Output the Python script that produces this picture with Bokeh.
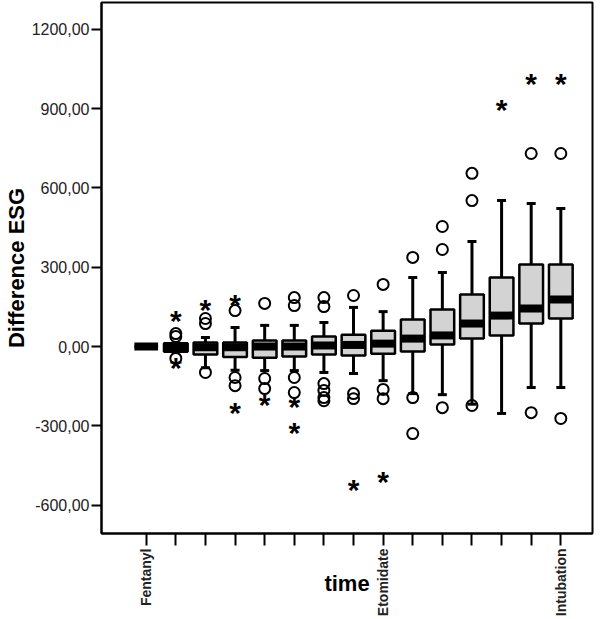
import math
from bokeh.plotting import figure
from bokeh.models import FixedTicker, Range1d, ColumnDataSource
from bokeh.core.properties import value
from bokeh.embed import file_html
from bokeh.resources import INLINE

# ---- data ----
categories = list(range(1, 16))
category_labels = {1: "Fentanyl", 9: "Etomidate", 15: "Intubation"}

q1 = [0, -20, -30, -40, -42, -38, -30, -34, -27, -19, 8, 30, 42, 87, 106]
median = [0, -3, -3, -3, 0, 0, 4, 6, 11, 30, 42, 87, 117, 144, 178]
q3 = [0, 12, 15, 15, 23, 23, 38, 45, 60, 102, 140, 197, 261, 310, 310]
whisker_low = [0, -20, -80, -90, -91, -91, -98, -102, -129, -178, -182, -218, -253, -155, -155]
whisker_high = [0, 12, 34, 72, 80, 80, 91, 148, 132, 261, 280, 397, 552, 541, 522]

circle_cat = [2, 2, 2,
              3, 3, 3,
              4, 4, 4,
              5, 5, 5,
              6, 6, 6, 6,
              7, 7, 7, 7, 7, 7,
              8, 8, 8,
              9, 9, 9,
              10, 10, 10,
              11, 11, 11,
              12, 12, 12,
              14, 14,
              15, 15]
circle_val = [49, 38, -45,
              106, 87, -98,
              136, -117, -148,
              163, -121, -159,
              185, 155, -117, -174,
              185, 151, -140, -166, -193, -205,
              193, -178, -197,
              235, -162, -197,
              337, -193, -329,
              454, 367, -231,
              655, 552, -223,
              730, -250,
              730, -272]

star_cat = [2, 2, 3, 4, 4, 5, 6, 6, 8, 9, 13, 14, 15]
star_val = [113, -65, 155, 174, -235, -204, -212, -310, -526, -496, 912, 1010, 1010]

y_ticks = [-600, -300, 0, 300, 600, 900, 1200]

# ---- figure ----
p = figure(width=600, height=619,
           x_range=Range1d(-0.51, 16.07), y_range=Range1d(-707, 1301),
           output_backend="svg", toolbar_location=None,
           min_border_left=97, min_border_right=8, min_border_top=2, min_border_bottom=86)

p.xgrid.visible = False
p.ygrid.visible = False
p.outline_line_color = "black"
p.outline_line_width = 2
p.background_fill_color = "white"
p.border_fill_color = "white"

# y axis
p.yaxis.ticker = FixedTicker(ticks=y_ticks)
p.yaxis.major_label_overrides = {t: f"{t:.2f}".replace(".", ",") for t in y_ticks}
p.yaxis.major_tick_out = 10
p.yaxis.major_tick_in = 0
p.yaxis.minor_tick_line_color = None
p.yaxis.axis_line_width = 2
p.yaxis.major_tick_line_width = 2
p.yaxis.major_label_text_font = "Liberation Sans"
p.yaxis.major_label_text_font_size = "16px"
p.yaxis.major_label_text_color = "#222222"
p.yaxis.major_label_standoff = 2
p.yaxis.axis_label = "Difference ESG"
p.yaxis.axis_label_text_font = "Liberation Sans"
p.yaxis.axis_label_text_font_style = "bold"
p.yaxis.axis_label_text_font_size = "22px"
p.yaxis.axis_label_text_color = "black"
p.yaxis.axis_label_standoff = 0

# x axis
p.xaxis.ticker = FixedTicker(ticks=categories)
p.xaxis.major_label_overrides = {c: category_labels.get(c, "") for c in categories}
p.xaxis.major_label_orientation = math.pi / 2
p.xaxis.major_tick_out = 12
p.xaxis.major_tick_in = 0
p.xaxis.minor_tick_line_color = None
p.xaxis.axis_line_width = 2
p.xaxis.major_tick_line_width = 2
p.xaxis.major_label_text_font = "Liberation Sans"
p.xaxis.major_label_text_font_style = "bold"
p.xaxis.major_label_text_font_size = "14px"
p.xaxis.major_label_text_color = "#222222"
p.xaxis.major_label_standoff = 3
p.xaxis.axis_label = "time"
p.xaxis.axis_label_text_font = "Liberation Sans"
p.xaxis.axis_label_text_font_style = "bold"
p.xaxis.axis_label_text_font_size = "22px"
p.xaxis.axis_label_text_color = "black"
p.xaxis.axis_label_standoff = -48

box_src = ColumnDataSource(dict(x=categories, q1=q1, q3=q3, med=median,
                                lo=whisker_low, hi=whisker_high))

p.segment(x0="x", y0="q3", x1="x", y1="hi", source=box_src, line_color="black", line_width=3)
p.segment(x0="x", y0="lo", x1="x", y1="q1", source=box_src, line_color="black", line_width=3)
p.scatter(x="x", y="hi", source=box_src, marker="dash", size=9, line_color="black", line_width=3)
p.scatter(x="x", y="lo", source=box_src, marker="dash", size=9, line_color="black", line_width=3)
p.vbar(x="x", width=0.8, bottom="q1", top="q3", source=box_src,
       fill_color="#d3d3d3", line_color="black", line_width=2.5)
p.rect(x="x", y="med", width=0.8, height=8, height_units="screen", source=box_src,
       fill_color="black", line_color=None)

p.scatter(x=circle_cat, y=circle_val, marker="circle", size=11,
          fill_alpha=0, line_color="black", line_width=2)

star_src = ColumnDataSource(dict(x=star_cat, y=star_val, t=["*"] * len(star_cat)))
p.text(x="x", y="y", text="t", source=star_src, text_font=value("Liberation Sans"),
       text_font_style="bold", text_font_size="30px", text_align="center",
       text_baseline="middle", y_offset=4, text_color="black")

open("out.html", "w").write(file_html(p, INLINE))
